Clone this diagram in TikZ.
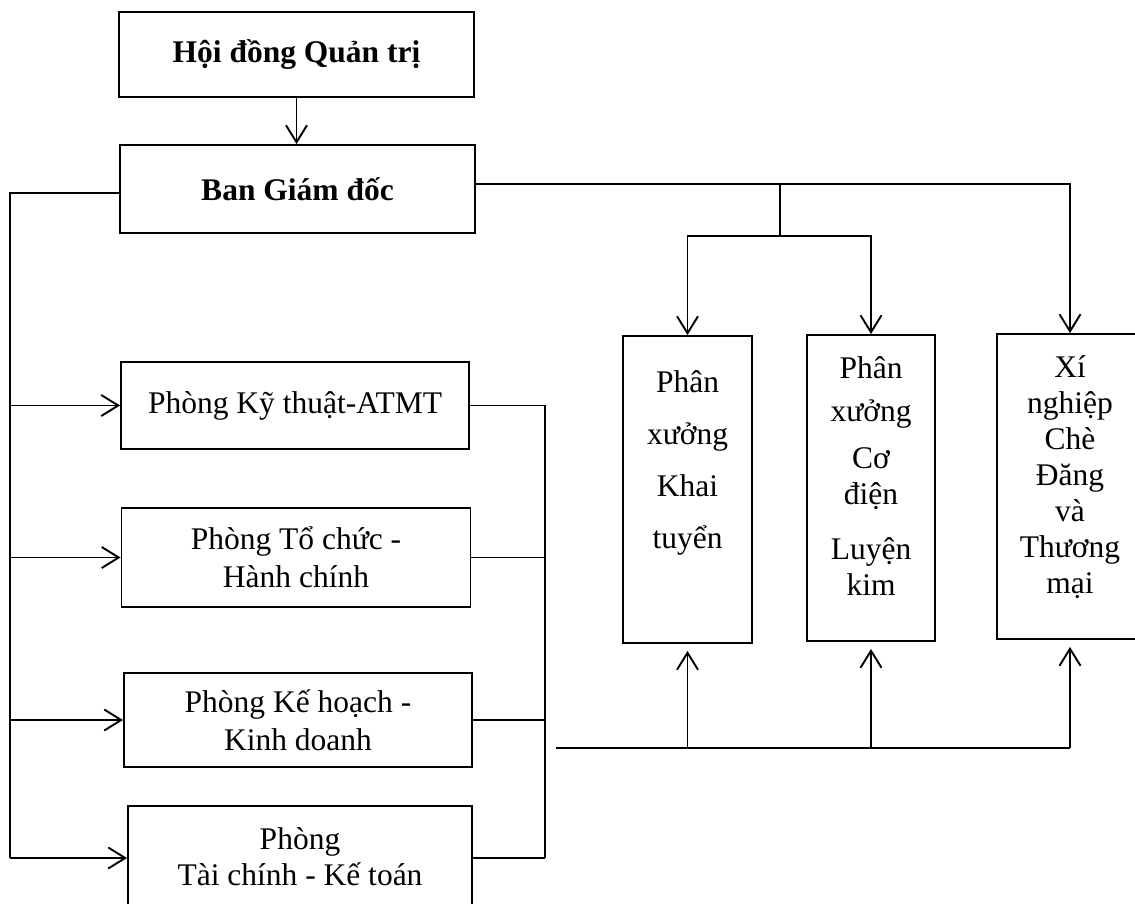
\documentclass[tikz,border=0pt]{standalone}
\usepackage{fontspec}
\setmainfont{Liberation Serif}
\usetikzlibrary{arrows.meta}
\tikzset{
  box/.style={draw, line width=1.9pt, inner sep=0pt, align=center,
    font=\fontsize{31.5}{38}\selectfont},
  boxtxt/.style={anchor=north, align=center, inner sep=0pt,
    font=\fontsize{31.5}{36}\selectfont},
  conn/.style={line width=1.9pt},
  arr/.style={conn, -{Straight Barb[length=17pt,width=21pt]}},
}
\begin{document}
\begin{tikzpicture}[x=1pt, y=-1pt]
    \useasboundingbox (0,0) rectangle (1135,903);
    % Hoi dong Quan tri / Ban Giam doc
    \node[box, minimum width=355pt, minimum height=85pt, font=\fontsize{31.5}{38}\selectfont\bfseries] (hdqt) at (296.5,54.5) {Hội đồng Quản trị};
    \node[box, minimum width=355pt, minimum height=88pt, font=\fontsize{31.5}{38}\selectfont\bfseries] (bgd) at (297.5,189) {Ban Giám đốc};
    % Phong ban
    \node[box, minimum width=348pt, minimum height=87pt] (kt) at (295,405.5) {Phòng Kỹ thuật-ATMT};
    \node[box, minimum width=349pt, minimum height=99pt] (tc) at (296,557.5) {Phòng Tổ chức -\\Hành chính};
    \node[box, minimum width=348pt, minimum height=94pt] (kh) at (298,720) {Phòng Kế hoạch -\\Kinh doanh};
    \node[box, minimum width=344pt, minimum height=110pt] (tckt) at (300,861) {};
    \node[boxtxt] at (tckt.north) [yshift=-22pt] {Phòng\\Tài chính - Kế toán};
    % Phan xuong
    \node[box, minimum width=129pt, minimum height=307pt] (px1) at (687.5,489.5) {};
    \node[boxtxt] at (px1.north) [yshift=-35pt] {Phân\\[16pt] xưởng\\[16pt] Khai\\[16pt] tuyển};
    \node[box, minimum width=128pt, minimum height=306pt] (px2) at (871,488) {};
    \node[boxtxt] at (px2.north) [yshift=-22pt] {Phân\\[7pt] xưởng\\[11pt] Cơ\\ điện\\[19pt] Luyện\\ kim};
    \node[box, minimum width=146pt, minimum height=305pt] (xn3) at (1070,486.5) {};
    \node[boxtxt] at (xn3.north) [yshift=-22pt] {Xí\\ nghiệp\\ Chè\\ Đăng\\ và\\ Thương\\ mại};
    % Duong noi
    \coordinate (lbus) at (10,193);
    \coordinate (lbusend) at (10,858);
    \coordinate (rbus) at (545,405);
    \coordinate (rbusend) at (545,858);
    \coordinate (topbus) at (780,184);
    \coordinate (subbus) at (780,236);
    \coordinate (botbus) at (556,748);
    \draw[arr] (hdqt.south) -- (hdqt.south |- bgd.north);
    \draw[conn] (lbus -| bgd.west) -- (lbus) -- (lbusend);
    \foreach \n in {kt,tc,kh} \draw[arr] (lbus |- \n.west) -- (\n.west);
    \draw[arr] (lbusend) -- (lbusend -| tckt.west);
    \draw[conn] (rbus) -- (rbusend);
    \foreach \n in {kt,tc,kh} \draw[conn] (\n.east) -- (rbus |- \n.east);
    \draw[conn] (rbusend -| tckt.east) -- (rbusend);
    \draw[arr] (topbus -| bgd.east) -- (topbus -| xn3.north) -- (xn3.north);
    \draw[conn] (topbus) -- (subbus);
    \draw[arr] (subbus) -- (subbus -| px1.north) -- (px1.north);
    \draw[arr] (subbus) -- (subbus -| px2.north) -- (px2.north);
    \draw[conn] (botbus) -- (botbus -| xn3.south);
    \foreach \n in {px1,px2,xn3} \draw[arr, shorten >=7pt] (botbus -| \n.south) -- (\n.south);
\end{tikzpicture}
\end{document}
